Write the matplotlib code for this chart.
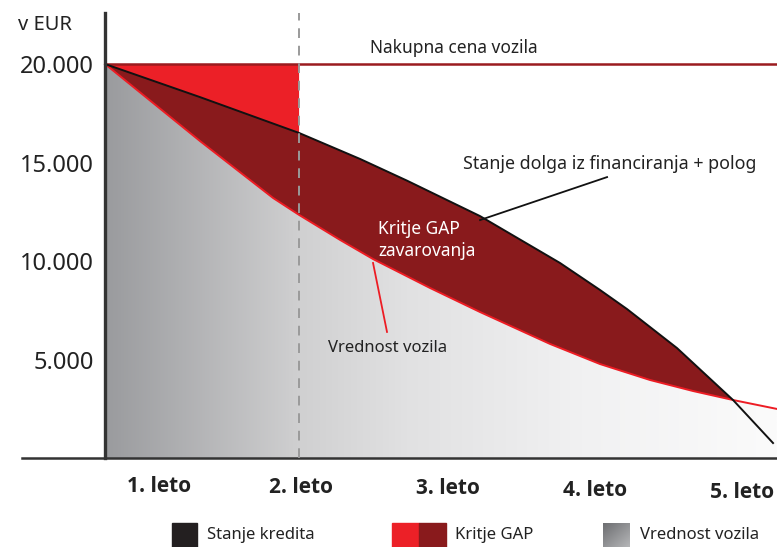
import numpy as np
import matplotlib.pyplot as plt
from matplotlib.colors import LinearSegmentedColormap
from matplotlib.patches import Rectangle

plt.rcParams['font.family'] = ['Noto Sans', 'DejaVu Sans']

# values (x in years from purchase, y in EUR)
loan_x = [0, 0.646, 1.32, 1.735, 2.054, 2.551, 3.095, 3.367, 3.551, 3.891, 4.272, 4.544]
loan_y = [20000, 18320, 16500, 15180, 14080, 12280, 9900, 8530, 7560, 5580, 2944, 760]
value_x = [0, 0.646, 1.143, 1.32, 1.599, 1.823, 2.211, 2.551, 3.027, 3.367, 3.707, 4.0,
           4.272, 4.571]
value_y = [20000, 16090, 13200, 12340, 11070, 10100, 8630, 7410, 5790, 4770, 3960, 3400,
           2944, 2490]
price = 20000
gap_end = 1.32
cross = 4.272
yticks = [5000, 10000, 15000, 20000]
ytick_labels = ['5.000', '10.000', '15.000', '20.000']
year_labels = ['1. leto', '2. leto', '3. leto', '4. leto', '5. leto']
year_pos = [0.37, 1.33, 2.33, 3.33, 4.33]

RED = '#ec2027'
DARKRED = '#891a1c'
LINE = '#333333'
TXT = '#222222'

fig = plt.figure(figsize=(7.77, 5.47), dpi=100)
ax = fig.add_axes([22 / 777, 89 / 547, 755 / 777, 445 / 547])
ax.set_xlim(-0.565, 4.571)
ax.set_ylim(0, 22590)

# gray gradient under the vehicle value
gx = list(value_x) + [value_x[-1], 0]
gy = list(value_y) + [0, 0]
poly = ax.fill(gx, gy, color='none', lw=0)[0]
gray = LinearSegmentedColormap.from_list('g', [(0, '#9a9b9e'), (0.29, '#d0d0d1'),
                                               (0.45, '#e1e1e2'), (0.71, '#f1f1f2'),
                                               (1, '#fbfbfb')])
im = ax.imshow(np.linspace(0, 1, 256).reshape(1, -1), cmap=gray, aspect='auto',
               extent=[0, value_x[-1], 0, price], zorder=1)
im.set_clip_path(poly)

# dark red gap between loan and value
n_loan = loan_x.index(cross) + 1
n_val = value_x.index(cross) + 1
px = loan_x[:n_loan] + value_x[:n_val][::-1]
py = loan_y[:n_loan] + value_y[:n_val][::-1]
ax.fill(px, py, color=DARKRED, lw=0, zorder=2)

# red part in year one
k = loan_x.index(gap_end) + 1
rx = [0, gap_end] + loan_x[:k][::-1]
ry = [price, price] + loan_y[:k][::-1]
ax.fill(rx, ry, color=RED, lw=0, zorder=2)

ax.plot(value_x, value_y, color='#ed1c24', lw=1.4, zorder=3)
ax.plot(loan_x, loan_y, color='#111111', lw=1.4, zorder=4)
ax.plot([0, 4.571], [price, price], color='#9b1b1f', lw=1.8, zorder=3)
ax.axvline(gap_end, color='#9a9a9a', lw=1.4, ls=(0, (5, 4)), zorder=5)

# axes
for s in ['top', 'right']:
    ax.spines[s].set_visible(False)
ax.spines['left'].set_position(('data', 0))
ax.spines['left'].set_linewidth(2.4)
ax.spines['left'].set_color(LINE)
ax.spines['bottom'].set_linewidth(1.8)
ax.spines['bottom'].set_color(LINE)
ax.spines['left'].set_zorder(6)
ax.set_yticks(yticks)
ax.set_yticklabels(ytick_labels, fontsize=17, color=TXT)
ax.tick_params(axis='y', length=0, pad=8)
ax.set_xticks([])

ax.text(-0.59, 22000, 'v EUR', fontsize=14.5, color=TXT, va='center', ha='left')

for i, (p, lab) in enumerate(zip(year_pos, year_labels)):
    ax.annotate(lab, (p, 0), xycoords='data', xytext=(0, -28 - 1.5 * i),
                textcoords='offset pixels', ha='center', va='center',
                fontsize=15, fontweight='bold', family=['Open Sans', 'DejaVu Sans'],
                color=TXT)

# annotations
ax.text(2.374, 20830, 'Nakupna cena vozila', fontsize=12.5, ha='center', va='center',
        color=TXT)
ax.text(2.435, 14930, 'Stanje dolga iz financiranja + polog', fontsize=12.8,
        ha='left', va='center', color=TXT)
ax.plot([2.551, 3.415], [12080, 14260], color='#111111', lw=1.3, zorder=5)
ax.text(1.857, 11050, 'Kritje GAP\nzavarovanja', fontsize=12.5, ha='left', va='center',
        color='white', linespacing=1.3, zorder=6)
ax.text(1.517, 5590, 'Vrednost vozila', fontsize=12, ha='left', va='center',
        color=TXT)
ax.plot([1.823, 1.918], [9900, 6400], color='#ed1c24', lw=1.3, zorder=5)

# legend
fig.patches.append(Rectangle((172 / 777, 0), 25 / 777, 24 / 547, transform=fig.transFigure,
                             color='#231f20'))
fig.patches.append(Rectangle((392 / 777, 0), 27 / 777, 24 / 547, transform=fig.transFigure,
                             color=RED))
fig.patches.append(Rectangle((419 / 777, 0), 27 / 777, 24 / 547, transform=fig.transFigure,
                             color=DARKRED))
lax = fig.add_axes([603 / 777, 0, 27 / 777, 24 / 547])
gx_, gy_ = np.meshgrid(np.linspace(0, 1, 50), np.linspace(0, 1, 50))
lax.imshow(gx_ + gy_, cmap=LinearSegmentedColormap.from_list('l', ['#6d6e71', '#b5b6b8']),
           aspect='auto')
lax.axis('off')
fig.text(207 / 777, 12 / 547, 'Stanje kredita', fontsize=12, va='center', color=TXT)
fig.text(455 / 777, 12 / 547, 'Kritje GAP', fontsize=12, va='center', color=TXT)
fig.text(640 / 777, 12 / 547, 'Vrednost vozila', fontsize=12, va='center', color=TXT)

fig.savefig('out.png', dpi=100)
